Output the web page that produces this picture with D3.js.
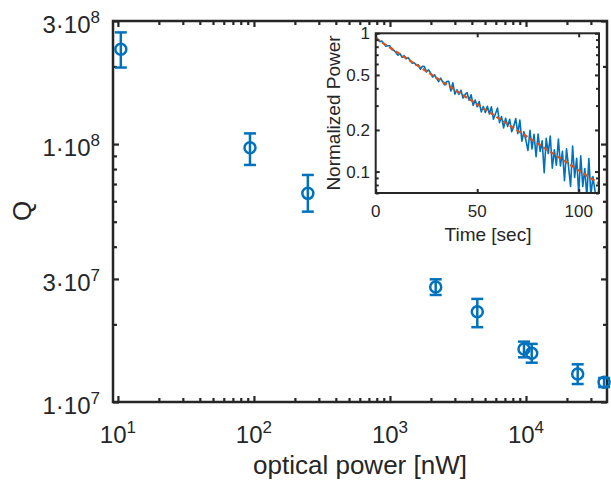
<!DOCTYPE html>
<html>
<head>
<meta charset="utf-8">
<script src="https://cdn.jsdelivr.net/npm/d3@7"></script>
<style>
  html, body { margin: 0; padding: 0; background: #fff; }
  svg { display: block; font-family: "Liberation Sans", Arial, Helvetica, sans-serif; }
</style>
</head>
<body>
<svg id="chart" width="611" height="483"></svg>
<script>
// ---------- main chart data ----------
const powerNW   = [10.5, 93.5, 249, 2168, 4385, 9664, 11015, 23990, 37500];
const qValue    = [2.33e8, 9.68e7, 6.44e7, 2.79e7, 2.24e7, 1.606e7, 1.545e7, 1.284e7, 1.192e7];
const qErrLow   = [1.98e8, 8.30e7, 5.47e7, 2.60e7, 1.95e7, 1.49e7, 1.42e7, 1.174e7, 1.143e7];
const qErrHigh  = [2.71e8, 1.10e8, 7.59e7, 2.99e7, 2.51e7, 1.714e7, 1.68e7, 1.40e7, 1.239e7];

const xMajorTicks = [10, 100, 1000, 10000];
const xTickExp    = ["1", "2", "3", "4"];
const yMajorTicks = [1e7, 3e7, 1e8, 3e8];
const yTickMant   = ["1·10", "3·10", "1·10", "3·10"];
const yTickExp    = ["7", "7", "8", "8"];

// ---------- inset data ----------
const timeSec = d3.range(0, 111);
const normPower = [
  0.948, 0.909, 0.871, 0.878, 0.842, 0.807, 0.813, 0.812, 0.762, 0.753,
  0.724, 0.694, 0.714, 0.671, 0.690, 0.655, 0.667, 0.633, 0.607, 0.612,
  0.587, 0.591, 0.550, 0.577, 0.575, 0.526, 0.545, 0.518, 0.482, 0.501,
  0.471, 0.447, 0.474, 0.445, 0.423, 0.448, 0.450, 0.383, 0.439, 0.363,
  0.390, 0.362, 0.387, 0.340, 0.360, 0.373, 0.328, 0.360, 0.301, 0.329,
  0.294, 0.321, 0.270, 0.296, 0.267, 0.297, 0.261, 0.294, 0.239, 0.262,
  0.288, 0.226, 0.250, 0.207, 0.243, 0.212, 0.239, 0.194, 0.213, 0.242,
  0.188, 0.236, 0.166, 0.194, 0.168, 0.142, 0.199, 0.146, 0.186, 0.128,
  0.187, 0.140, 0.167, 0.098, 0.174, 0.135, 0.181, 0.106, 0.144, 0.111,
  0.172, 0.110, 0.140, 0.0858, 0.146, 0.108, 0.0781, 0.153, 0.0907, 0.125,
  0.0694, 0.130, 0.0782, 0.105, 0.0655, 0.124, 0.0671, 0.0920, 0.0728, 0.0587,
  0.0779
];
const fitTime  = [0, 110];
const fitPower = [0.92, 0.082];
const insetXTicks = [0, 50, 100];
const insetYTicks = [0.1, 0.2, 0.5, 1];
const insetYLabels = ["0.1", "0.2", "0.5", "1"];

// ---------- styles ----------
const axisColor = "#262626";
const blue = "#0072BD";
const orange = "#D95319";

const svg = d3.select("#chart");

// ---------- main axes ----------
const M = {left: 113, right: 607, top: 21, bottom: 402};
const x = d3.scaleLog().domain([9.2, 39400]).range([M.left, M.right]);
const y = d3.scaleLog().domain([1e7, 3e8]).range([M.bottom, M.top]);

function minorLog(scale, majors) {
  const [a, b] = scale.domain();
  const out = [];
  for (let e = Math.floor(Math.log10(a)); e <= Math.ceil(Math.log10(b)); e++) {
    for (let m = 1; m <= 9; m++) {
      const v = m * Math.pow(10, e);
      if (v >= a && v <= b && !majors.some(t => Math.abs(t - v) / v < 1e-9)) out.push(v);
    }
  }
  return out;
}

function tickGroup(axisGen, transform) {
  const g = svg.append("g").attr("transform", transform).call(axisGen);
  g.select(".domain").remove();
  g.selectAll("line").attr("stroke", axisColor).attr("stroke-width", 2.2);
  return g;
}

const xMinor = minorLog(x, xMajorTicks);
const yMinor = minorLog(y, yMajorTicks);

tickGroup(d3.axisBottom(x).tickValues(xMajorTicks).tickSize(-6).tickFormat(""), `translate(0,${M.bottom})`);
tickGroup(d3.axisBottom(x).tickValues(xMinor).tickSize(-4).tickFormat(""), `translate(0,${M.bottom})`);
tickGroup(d3.axisTop(x).tickValues(xMajorTicks).tickSize(-6).tickFormat(""), `translate(0,${M.top})`);
tickGroup(d3.axisTop(x).tickValues(xMinor).tickSize(-4).tickFormat(""), `translate(0,${M.top})`);
tickGroup(d3.axisLeft(y).tickValues(yMajorTicks).tickSize(-6).tickFormat(""), `translate(${M.left},0)`);
tickGroup(d3.axisLeft(y).tickValues(yMinor).tickSize(-4).tickFormat(""), `translate(${M.left},0)`);
tickGroup(d3.axisRight(y).tickValues(yMajorTicks).tickSize(-6).tickFormat(""), `translate(${M.right},0)`);
tickGroup(d3.axisRight(y).tickValues(yMinor).tickSize(-4).tickFormat(""), `translate(${M.right},0)`);

svg.append("rect")
  .attr("x", M.left).attr("y", M.top)
  .attr("width", M.right - M.left).attr("height", M.bottom - M.top)
  .attr("fill", "none").attr("stroke", axisColor).attr("stroke-width", 2.5);

// x tick labels
xMajorTicks.forEach((v, i) => {
  const t = svg.append("text")
    .attr("x", x(v)).attr("y", 443)
    .attr("text-anchor", "middle")
    .attr("fill", axisColor).attr("font-size", 24);
  t.append("tspan").text("10");
  t.append("tspan").attr("dy", -10).attr("font-size", 17).text(xTickExp[i]);
});

// y tick labels
yMajorTicks.forEach((v, i) => {
  const t = svg.append("text")
    .attr("x", 100).attr("y", y(v) + 12)
    .attr("text-anchor", "end")
    .attr("fill", axisColor).attr("font-size", 24);
  t.append("tspan").text(yTickMant[i]);
  t.append("tspan").attr("dy", -10).attr("font-size", 17).text(yTickExp[i]);
});

// axis titles
svg.append("text")
  .attr("x", 360).attr("y", 474)
  .attr("text-anchor", "middle")
  .attr("fill", axisColor).attr("font-size", 26)
  .text("optical power [nW]");

svg.append("text")
  .attr("transform", "translate(31,211) rotate(-90)")
  .attr("text-anchor", "middle")
  .attr("fill", axisColor).attr("font-size", 26)
  .text("Q");

// error bars and markers
const pts = powerNW.map((p, i) => ({p, q: qValue[i], lo: qErrLow[i], hi: qErrHigh[i]}));
const eb = svg.append("g").attr("stroke", blue).attr("stroke-width", 2.5).attr("fill", "none");
pts.forEach(d => {
  const cx = x(d.p);
  eb.append("line").attr("x1", cx).attr("x2", cx).attr("y1", y(d.lo)).attr("y2", y(d.hi));
  eb.append("line").attr("x1", cx - 6).attr("x2", cx + 6).attr("y1", y(d.lo)).attr("y2", y(d.lo));
  eb.append("line").attr("x1", cx - 6).attr("x2", cx + 6).attr("y1", y(d.hi)).attr("y2", y(d.hi));
  eb.append("circle").attr("cx", cx).attr("cy", y(d.q)).attr("r", 5.5);
});

// ---------- inset ----------
const I = {left: 375.7, right: 599, top: 33.3, bottom: 193};
const ix = d3.scaleLinear().domain([0, 110]).range([I.left, I.right]);
const iy = d3.scaleLog().domain([0.07, 1]).range([I.bottom, I.top]);

svg.append("rect")
  .attr("x", I.left).attr("y", I.top)
  .attr("width", I.right - I.left).attr("height", I.bottom - I.top)
  .attr("fill", "#fff");

svg.append("clipPath").attr("id", "insetClip")
  .append("rect")
  .attr("x", I.left).attr("y", I.top)
  .attr("width", I.right - I.left).attr("height", I.bottom - I.top);

const plotG = svg.append("g").attr("clip-path", "url(#insetClip)");

plotG.append("path")
  .datum(timeSec.map((t, i) => [t, normPower[i]]))
  .attr("fill", "none").attr("stroke", blue).attr("stroke-width", 1.6)
  .attr("stroke-linejoin", "round")
  .attr("d", d3.line().x(d => ix(d[0])).y(d => iy(d[1])));

plotG.append("path")
  .datum(fitTime.map((t, i) => [t, fitPower[i]]))
  .attr("fill", "none").attr("stroke", orange).attr("stroke-width", 2.2)
  .attr("stroke-dasharray", "5,3")
  .attr("d", d3.line().x(d => ix(d[0])).y(d => iy(d[1])));

const iyMinor = minorLog(iy, insetYTicks);

function insetTicks(axisGen, transform) {
  const g = svg.append("g").attr("transform", transform).call(axisGen);
  g.select(".domain").remove();
  g.selectAll("line").attr("stroke", axisColor).attr("stroke-width", 2);
  return g;
}
insetTicks(d3.axisBottom(ix).tickValues(insetXTicks).tickSize(-4).tickFormat(""), `translate(0,${I.bottom})`);
insetTicks(d3.axisTop(ix).tickValues(insetXTicks).tickSize(-4).tickFormat(""), `translate(0,${I.top})`);
insetTicks(d3.axisLeft(iy).tickValues(insetYTicks).tickSize(-4).tickFormat(""), `translate(${I.left},0)`);
insetTicks(d3.axisLeft(iy).tickValues(iyMinor).tickSize(-3).tickFormat(""), `translate(${I.left},0)`);
insetTicks(d3.axisRight(iy).tickValues(insetYTicks).tickSize(-4).tickFormat(""), `translate(${I.right},0)`);
insetTicks(d3.axisRight(iy).tickValues(iyMinor).tickSize(-3).tickFormat(""), `translate(${I.right},0)`);

svg.append("rect")
  .attr("x", I.left).attr("y", I.top)
  .attr("width", I.right - I.left).attr("height", I.bottom - I.top)
  .attr("fill", "none").attr("stroke", axisColor).attr("stroke-width", 2);

insetXTicks.forEach(v => {
  svg.append("text")
    .attr("x", ix(v)).attr("y", 217)
    .attr("text-anchor", "middle")
    .attr("fill", axisColor).attr("font-size", 17)
    .text(v);
});
insetYTicks.forEach((v, i) => {
  svg.append("text")
    .attr("x", 370).attr("y", iy(v) + 6)
    .attr("text-anchor", "end")
    .attr("fill", axisColor).attr("font-size", 17)
    .text(insetYLabels[i]);
});

svg.append("text")
  .attr("x", 488).attr("y", 241)
  .attr("text-anchor", "middle")
  .attr("fill", axisColor).attr("font-size", 19)
  .text("Time [sec]");

svg.append("text")
  .attr("transform", "translate(340,113) rotate(-90)")
  .attr("text-anchor", "middle")
  .attr("fill", axisColor).attr("font-size", 19)
  .text("Normalized Power");
</script>
</body>
</html>
